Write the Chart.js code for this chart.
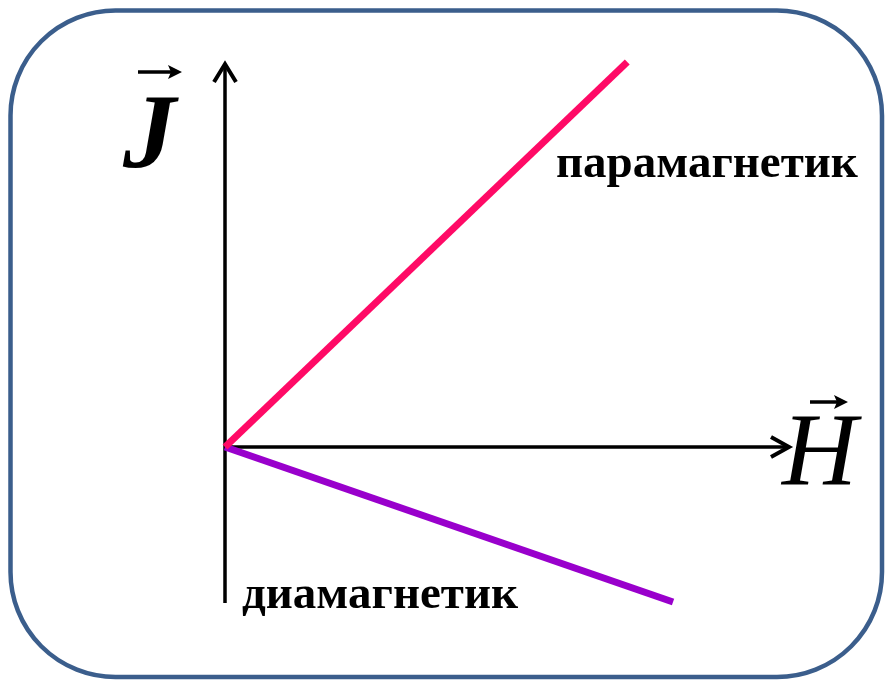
<!DOCTYPE html>
<html>
<head>
<meta charset="utf-8">
<script src="https://cdn.jsdelivr.net/npm/chart.js@4"></script>
<style>
    body { margin: 0; background: #fff; }
    #wrap { width: 886px; height: 681px; position: relative; }
</style>
</head>
<body>
<div id="wrap"><canvas id="myChart"></canvas></div>
<script>
// data (arbitrary units, origin at 0,0)
var paraX = [0, 7.12];
var paraY = [0, 7.7];
var diaX = [0, 7.93];
var diaY = [0, -3.1];
var seriesNames = ["парамагнетик", "диамагнетик"];
var axisNames = ["J", "H"];

function toPoints(xs, ys) {
    var pts = [];
    for (var i = 0; i < xs.length; i++) {
        pts.push({x: xs[i], y: ys[i]});
    }
    return pts;
}

function vecArrow(ctx, x1, x2, y) {
    ctx.beginPath();
    ctx.moveTo(x1, y);
    ctx.lineTo(x2 - 8, y);
    ctx.lineWidth = 3.5;
    ctx.stroke();
    ctx.beginPath();
    ctx.moveTo(x2, y);
    ctx.lineTo(x2 - 14, y - 7);
    ctx.lineTo(x2 - 11, y);
    ctx.lineTo(x2 - 14, y + 7);
    ctx.closePath();
    ctx.fill();
}

// rounded frame + axes with open arrowheads + labels
var decor = {
    id: 'decor',
    beforeDraw: function (chart) {
        var ctx = chart.ctx;
        ctx.save();
        ctx.fillStyle = "#ffffff";
        ctx.fillRect(0, 0, chart.width, chart.height);
        ctx.beginPath();
        ctx.roundRect(10.5, 10.5, 871.5, 666.5, 105);
        ctx.lineWidth = 4.5;
        ctx.strokeStyle = "#3b5e8c";
        ctx.stroke();
        ctx.restore();
    },
    beforeDatasetsDraw: function (chart) {
        var ctx = chart.ctx;
        var xs = chart.scales.x, ys = chart.scales.y;
        var ox = xs.getPixelForValue(0), oy = ys.getPixelForValue(0);
        var right = xs.getPixelForValue(xs.max);
        var top = ys.getPixelForValue(ys.max);
        var bottom = ys.getPixelForValue(ys.min);
        ctx.save();
        ctx.strokeStyle = "#000";
        ctx.lineWidth = 3.5;
        ctx.lineCap = "butt";
        ctx.beginPath();
        ctx.moveTo(ox, bottom);
        ctx.lineTo(ox, top + 2);
        ctx.moveTo(ox, oy);
        ctx.lineTo(right - 2, oy);
        ctx.stroke();
        ctx.lineWidth = 4;
        ctx.lineJoin = "miter";
        ctx.beginPath();
        ctx.moveTo(ox - 11, top + 20);
        ctx.lineTo(ox, top + 2);
        ctx.lineTo(ox + 11, top + 20);
        ctx.moveTo(right - 19, oy - 10);
        ctx.lineTo(right - 1, oy);
        ctx.lineTo(right - 19, oy + 10);
        ctx.stroke();
        ctx.restore();
    },
    afterDraw: function (chart) {
        var ctx = chart.ctx;
        ctx.save();
        ctx.fillStyle = "#000";
        ctx.strokeStyle = "#000";
        ctx.textBaseline = "alphabetic";
        ctx.textAlign = "left";
        ctx.font = "bold 47px 'Liberation Serif'";
        ctx.fillText(seriesNames[0], 556, 177);
        ctx.fillText(seriesNames[1], 242, 608);
        ctx.font = "bold italic 106px 'Liberation Serif'";
        ctx.fillText(axisNames[0], 123, 167);
        ctx.font = "italic 104px 'Liberation Serif'";
        ctx.fillText(axisNames[1], 782, 485);
        vecArrow(ctx, 138, 182, 72);
        vecArrow(ctx, 810, 848, 402);
        ctx.restore();
    }
};

var mychart = new Chart(document.getElementById('myChart'), {
    type: 'scatter',
    data: {
        datasets: [{
                label: seriesNames[0],
                data: toPoints(paraX, paraY),
                showLine: true,
                borderColor: "#ff0a66",
                borderWidth: 7,
                pointRadius: 0,
                clip: false
            }, {
                label: seriesNames[1],
                data: toPoints(diaX, diaY),
                showLine: true,
                borderColor: "#9900cc",
                borderWidth: 7,
                pointRadius: 0,
                clip: false
            }
        ]
    },
    options: {
        responsive: true,
        maintainAspectRatio: false,
        animation: false,
        layout: {
            padding: {left: 225, right: 96, top: 62, bottom: 78}
        },
        plugins: {
            legend: {display: false},
            tooltip: {enabled: false}
        },
        scales: {
            x: {type: 'linear', min: 0, max: 10, display: false},
            y: {type: 'linear', min: -3.12, max: 7.7, display: false}
        }
    },
    plugins: [decor]
});
</script>
</body>
</html>
